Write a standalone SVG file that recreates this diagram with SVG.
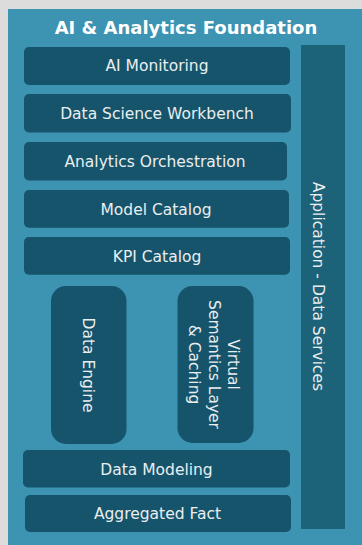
<svg xmlns="http://www.w3.org/2000/svg" width="362" height="545" viewBox="0 0 362 545">
<style>
.box{fill:#15546b;}
.lbl{font-family:"DejaVu Sans","Verdana",sans-serif;font-size:15.5px;fill:#ebeef0;text-anchor:middle;}
.title{font-family:"DejaVu Sans","Verdana",sans-serif;font-size:18px;font-weight:bold;fill:#ffffff;text-anchor:middle;}
</style>
<rect x="0" y="0" width="362" height="545" fill="#dcdcdc"/>
<g id="foundation">
<rect x="8" y="9" width="354" height="536" fill="#3c93b2"/>
<text class="title" x="186" y="34">AI &amp; Analytics Foundation</text>
</g>
<g id="app-data-services">
<rect x="301" y="45" width="44" height="484" fill="#1c6278"/>
<text class="lbl" transform="translate(319,286.5) rotate(90)" x="0" y="5.6">Application - Data Services</text>
</g>
<g id="ai-monitoring">
<rect class="box" x="24" y="47" width="266" height="38" rx="5"/>
<text class="lbl" x="157" y="71.2">AI Monitoring</text>
</g>
<g id="data-science-workbench">
<rect class="box" x="24" y="94" width="267" height="38.5" rx="5"/>
<text class="lbl" x="157" y="118.9">Data Science Workbench</text>
</g>
<g id="analytics-orchestration">
<rect class="box" x="24" y="142" width="263" height="38.5" rx="5"/>
<text class="lbl" x="155" y="166.9">Analytics Orchestration</text>
</g>
<g id="model-catalog">
<rect class="box" x="24" y="190" width="265" height="37.7" rx="5"/>
<text class="lbl" x="156" y="214.5">Model Catalog</text>
</g>
<g id="kpi-catalog">
<rect class="box" x="24" y="237" width="266" height="37.7" rx="5"/>
<text class="lbl" x="157" y="261.5">KPI Catalog</text>
</g>
<g id="data-engine">
<rect class="box" x="51" y="286" width="75.5" height="158" rx="15"/>
<text class="lbl" transform="translate(89,365) rotate(90)" x="0" y="5.6">Data Engine</text>
</g>
<g id="virtual-semantics">
<rect class="box" x="177.5" y="286" width="76" height="157" rx="15"/>
<text class="lbl" transform="translate(214.5,364.5) rotate(90)" x="0" y="5.6"><tspan x="0" dy="-19.5">Virtual</tspan><tspan x="0" dy="19.5">Semantics Layer</tspan><tspan x="0" dy="19.5">&amp; Caching</tspan></text>
</g>
<g id="data-modeling">
<rect class="box" x="23" y="450" width="267" height="37.5" rx="5"/>
<text class="lbl" x="156.5" y="474.5">Data Modeling</text>
</g>
<g id="aggregated-fact">
<rect class="box" x="25" y="495" width="266" height="37" rx="5"/>
<text class="lbl" x="157.5" y="519">Aggregated Fact</text>
</g>
<g id="connectors"></g>
</svg>
